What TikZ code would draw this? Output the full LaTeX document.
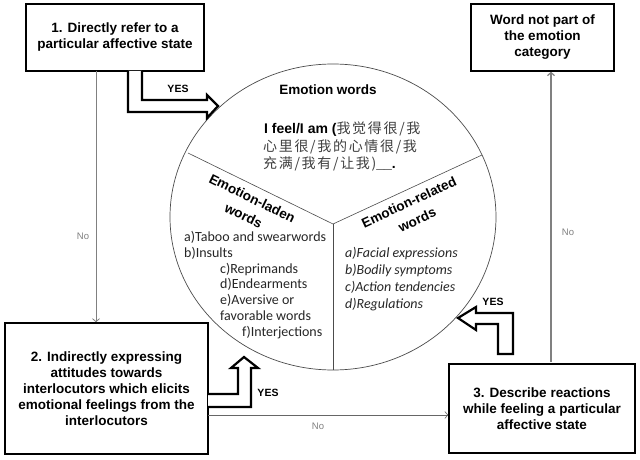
\documentclass[tikz,border=0pt]{standalone}
\usepackage{fontspec}
\setmainfont{Liberation Sans}
\newfontfamily\listfont{Carlito}
\newfontfamily\cjkfont[LetterSpace=12]{Noto Sans CJK SC}
\usetikzlibrary{positioning,calc,shapes.geometric,arrows.meta}

\tikzset{
  stepbox/.style={draw, line width=1.6pt, align=center, inner sep=0pt,
    font=\bfseries\fontsize{13.5}{16}\selectfont},
  flow/.style={draw=gray, line width=0.8pt, -{Straight Barb[length=3pt,width=7pt]}},
  blockarrow/.style={draw, line width=2.2pt, fill=white, line join=miter},
  yeslabel/.style={font=\bfseries\fontsize{10.5}{12}\selectfont},
  nolabel/.style={text=gray, font=\fontsize{9.5}{11}\selectfont},
  heading/.style={align=center, inner sep=0pt, font=\bfseries\fontsize{13.5}{19.5}\selectfont},
  listtext/.style={align=left, inner sep=0pt, text=black!85},
  cjkline/.style={anchor=base west, inner sep=0pt, font=\fontsize{14}{17.5}\selectfont}
}

\begin{document}
\begin{tikzpicture}[x=1pt, y=-1pt]

 \path[use as bounding box, fill=white] (0,0) rectangle (640,460);

 % the four question boxes
 \node[stepbox, minimum width=178pt, minimum height=67pt] (refer) at (115,37.5)
   {1. Directly refer to a\\particular affective state};
 \node[stepbox, minimum width=143pt, minimum height=67pt] (notpart) at (542.5,37.5)
   {Word not part of\\the emotion\\category};
 \node[stepbox, minimum width=203pt, minimum height=131pt] (indirect) at (106.5,388.5)
   {2. Indirectly expressing\\attitudes towards\\interlocutors which elicits\\emotional feelings from the\\interlocutors};
 \node[stepbox, minimum width=186pt, minimum height=89pt] (describe) at (542,408.5)
   {3. Describe reactions\\while feeling a particular\\affective state};

 % the category wheel
 \node[draw=black!70, line width=0.7pt, ellipse, minimum width=326pt, minimum height=306pt,
   inner sep=0pt] (wheel) at (333,217) {};
 \coordinate (hub) at (333,224);
 \coordinate (lcut) at (188,153);
 \coordinate (rcut) at (482,155);
 \draw[black!70, line width=0.6pt] (lcut) -- (hub) -- (rcut);
 \draw[black!70, line width=0.6pt] (hub) -- (wheel.south);

 \node[heading] (ewtitle) at (328,90) {Emotion words};
 \node[cjkline] (ewline1) at (264,133)
   {\textbf{I feel/I am (}{\color{black!75}\cjkfont 我觉得很/我}};
 \node[cjkline] (ewline2) at (263,151) {\color{black!75}\cjkfont 心里很/我的心情很/我};
 \node[cjkline] (ewline3) at (263,168) {{\color{black!75}\cjkfont 充满/我有/让我)}\textbf{\_\_.}};

 \node[heading, rotate=-26] (ladentitle) at (248,207) {Emotion-laden\\words};
 \node[listtext, anchor=north west, font=\listfont\fontsize{14}{15.8}\selectfont] (ladenlist) at (184,231)
   {a)Taboo and swearwords\\
    b)Insults\\
    \hspace*{36pt}c)Reprimands\\
    \hspace*{36pt}d)Endearments\\
    \hspace*{36pt}e)Aversive or\\
    \hspace*{36pt}favorable words\\
    \hspace*{58pt}f)Interjections};

 \node[heading, rotate=25] (relatedtitle) at (413,211) {Emotion-related\\words};
 \node[listtext, anchor=north west, font=\listfont\itshape\fontsize{14}{17}\selectfont] (relatedlist) at (345,247)
   {a)Facial expressions\\
    b)Bodily symptoms\\
    c)Action tendencies\\
    d)Regulations};

 % YES block arrows
 \draw[blockarrow] (128,71) -- (128,112) -- (207,112) -- (207,118) -- (218,106)
   -- (207,95) -- (207,100) -- (142,100) -- (142,71);
 \node[yeslabel] (yes1) at (178,89) {YES};

 \draw[blockarrow] (208,394) -- (238,394) -- (238,368) -- (231,368) -- (244,357)
   -- (258,368) -- (251,368) -- (251,407) -- (208,407);
 \node[yeslabel] (yes2) at (268,393) {YES};

 \draw[blockarrow] (498,354) -- (498,324) -- (476,324) -- (476,330) -- (458,318)
   -- (476,307) -- (476,313) -- (513,313) -- (513,354) -- cycle;
 \node[yeslabel] (yes3) at (493,302) {YES};

 % NO connectors
 \coordinate (no1) at (96,71);
 \draw[flow] (no1) -- (no1 |- indirect.north);
 \node[nolabel] (no1lab) at (83,236) {No};

 \coordinate (no2) at (208,415);
 \draw[flow, draw=black!60, line width=0.6pt] (no2) -- (no2 -| describe.west);
 \node[nolabel] (no2lab) at (318,426) {No};

 \coordinate (no3) at (551,362);
 \draw[flow, line width=1.2pt] (no3) -- (no3 |- notpart.south);
 \node[nolabel] (no3lab) at (568,232) {No};

\end{tikzpicture}
\end{document}
